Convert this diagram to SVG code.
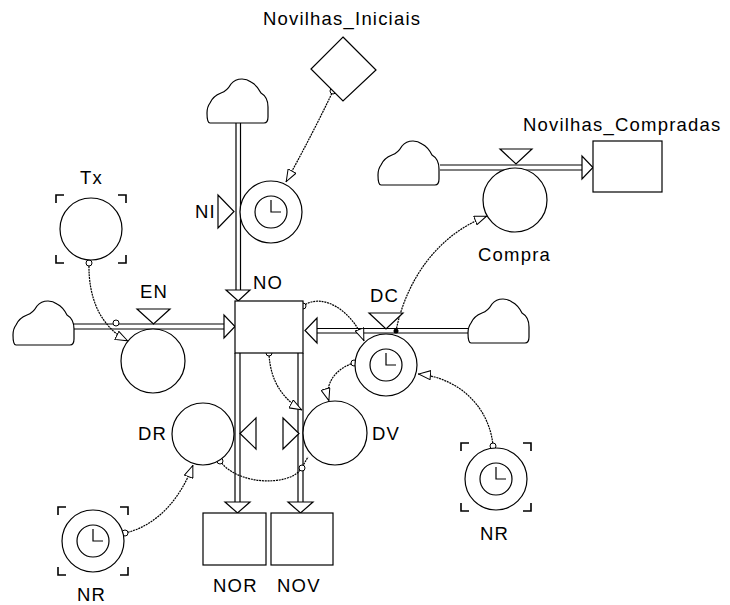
<svg xmlns="http://www.w3.org/2000/svg" width="730" height="605" viewBox="0 0 730 605">
<style>
.s{fill:none;stroke:#000;stroke-width:1.2}
.w{fill:#fff;stroke:#000;stroke-width:1.2}
.b{fill:none;stroke:#000;stroke-width:1.6}
.lnk{fill:none;stroke:#000;stroke-width:1.2;stroke-dasharray:2 0.8}
.dot{fill:#fff;stroke:#000;stroke-width:1}
text{font-family:"Liberation Sans",Arial,sans-serif;font-size:18.5px;letter-spacing:1.2px;fill:#000}
</style>
<defs>
<path id="cloud" d="M3,44 L57,44 Q61,44 61,38 L61,28 Q61,18 54,14 Q50,6 44,3 Q40,0 35,0 Q28,0 24,5 Q20,12 14,14 Q6,17 3,24 Q0,28 0,34 Q0,44 3,44 Z" fill="#fff" stroke="#000" stroke-width="1.2"/>
<g id="clock"><circle r="31" class="w"/><circle r="16" class="s"/><path d="M0,-12 L0,0 L10,0" class="s"/></g>
<path id="brk" d="M0,8 L0,0 L8,0 M62,0 L70,0 L70,8 M70,60 L70,68 L62,68 M8,68 L0,68 L0,60" class="b"/>
<marker id="ah" viewBox="0 0 13 10" refX="13" refY="5" markerWidth="13" markerHeight="10" markerUnits="userSpaceOnUse" orient="auto">
<path d="M0.5,0.5 L12.5,5 L0.5,9.5 Z" fill="#fff" stroke="#000" stroke-width="1"/>
</marker>
</defs>
<rect width="730" height="605" fill="#fff"/>

<g id="connectors">
<path class="s" d="M236,123 V290 M240.5,123 V290"/>
<path class="w" d="M226,290 H250 L238.2,301 Z"/>
<path class="s" d="M74,324 H224 M74,329 H224"/>
<path class="w" d="M224,315 V338 L235,326.5 Z"/>
<path class="s" d="M317,328.5 H468 M317,333 H468"/>
<path class="w" d="M317,318 V343 L305,330.5 Z"/>
<path class="s" d="M440,165 H582 M440,170 H582"/>
<path class="w" d="M582,156 V179 L593,167.5 Z"/>
<path class="s" d="M235,353 V502 M240,353 V502 M298,353 V502 M303,353 V502"/>
<path class="w" d="M225,502 H250 L237.5,513 Z"/>
<path class="w" d="M288,502 H313 L300.5,513 Z"/>
<path class="lnk" d="M333,91 Q312,135 286,182" marker-end="url(#ah)"/>
<path class="lnk" d="M89,263 C88,300 102,328 128,341" marker-end="url(#ah)"/>
<path class="lnk" d="M303,306 C322,292 352,310 364,341" marker-end="url(#ah)"/>
<path class="lnk" d="M269,353 C270,382 284,400 302,410" marker-end="url(#ah)"/>
<path class="lnk" d="M354,363 C336,368 324,384 329,401" marker-end="url(#ah)"/>
<path class="lnk" d="M396,331 C404,290 430,238 487,216" marker-end="url(#ah)"/>
<path class="lnk" d="M493,446 C490,410 462,378 418,374" marker-end="url(#ah)"/>
<path class="lnk" d="M125,533 C156,526 180,500 193,465" marker-end="url(#ah)"/>
<path class="lnk" d="M220,461 C238,486 290,486 301,469 L308,457"/>
<circle class="dot" cx="333" cy="91" r="3"/>
<circle class="dot" cx="89" cy="263" r="3"/>
<circle class="dot" cx="116" cy="323" r="3"/>
<circle class="dot" cx="303" cy="306" r="3"/>
<circle class="dot" cx="269" cy="353" r="3"/>
<circle class="dot" cx="354" cy="363" r="3"/>
<circle cx="396" cy="331" r="2.5" fill="#000"/>
<circle class="dot" cx="493" cy="446" r="3"/>
<circle class="dot" cx="125" cy="533" r="3"/>
<circle class="dot" cx="220" cy="461" r="3"/>
<circle class="dot" cx="302" cy="468" r="3"/>
</g>

<g id="cloud_top"><use href="#cloud" x="207" y="79"/></g>
<g id="cloud_compra"><use href="#cloud" x="378" y="141"/></g>
<g id="cloud_en"><use href="#cloud" x="13" y="301"/></g>
<g id="cloud_dc"><use href="#cloud" x="468" y="299"/></g>

<g id="Novilhas_Iniciais">
<path class="w" d="M343,37 L376,70 L343,101 L311,69 Z"/>
<text x="263" y="25">Novilhas_Iniciais</text>
</g>

<g id="Novilhas_Compradas">
<rect class="w" x="593" y="141" width="69" height="51"/>
<text x="523" y="131">Novilhas_Compradas</text>
</g>

<g id="Compra">
<path class="w" d="M500,149 H532 L516,164 Z"/>
<circle class="w" cx="515" cy="200" r="32"/>
<text x="478" y="261">Compra</text>
</g>

<g id="NI">
<path class="w" d="M218,195 V228 L234,211.5 Z"/>
<use href="#clock" x="271" y="212"/>
<text x="195" y="218">NI</text>
</g>

<g id="Tx">
<use href="#brk" x="56" y="195"/>
<circle class="w" cx="91" cy="229" r="31"/>
<text x="80" y="184">Tx</text>
</g>

<g id="EN">
<path class="w" d="M137,309 H170 L153.5,324 Z"/>
<circle class="w" cx="153" cy="361" r="32"/>
<text x="140" y="298">EN</text>
</g>

<g id="NO">
<rect class="w" x="235" y="301" width="68" height="52"/>
<text x="253" y="289">NO</text>
</g>

<g id="DC">
<path class="w" d="M369,313 H403 L386,329 Z"/>
<use href="#clock" x="386" y="365"/>
<text x="370" y="302">DC</text>
</g>

<g id="DR">
<path class="w" d="M256,418 V449 L240,433.5 Z"/>
<circle class="w" cx="203" cy="434" r="31"/>
<text x="138" y="440">DR</text>
</g>

<g id="DV">
<path class="w" d="M283,418 V449 L299,433.5 Z"/>
<circle class="w" cx="335" cy="433" r="32"/>
<text x="372" y="440">DV</text>
</g>

<g id="NR_right">
<use href="#brk" x="461" y="443"/>
<use href="#clock" x="496" y="479"/>
<text x="480" y="540">NR</text>
</g>

<g id="NR_left">
<use href="#brk" x="58" y="507"/>
<use href="#clock" x="93" y="541"/>
<text x="77" y="601">NR</text>
</g>

<g id="NOR">
<rect class="w" x="203" y="513" width="63" height="52"/>
<text x="213" y="592">NOR</text>
</g>

<g id="NOV">
<rect class="w" x="271" y="513" width="62" height="52"/>
<text x="277" y="592">NOV</text>
</g>
</svg>
